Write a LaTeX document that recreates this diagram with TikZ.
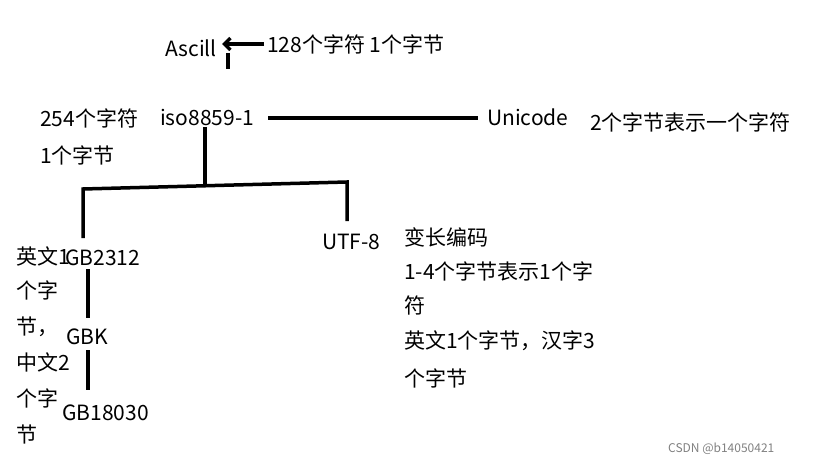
\documentclass[tikz,border=0pt]{standalone}
\usepackage{fontspec}
\usetikzlibrary{arrows.meta}
\setmainfont{Noto Sans CJK SC}
\begin{document}
\begin{tikzpicture}[x=1pt,y=-1pt,
  t/.style={anchor=west,inner sep=0pt,font=\fontsize{21}{24}\selectfont},
  ln/.style={line width=3.5pt}]
\useasboundingbox (0,0) rectangle (816,465);
\node[t] (ascill) at (165,48) {Ascill};
\node[t] (a128) at (267,44) {128个字符 1个字节};
\node[t] (c254) at (40,118) {254个字符};
\node[t] (iso) at (160,117) {iso8859-1};
\node[t] (b1) at (40,155) {1个字节};
\node[t] (uni) at (487,117) {Unicode};
\node[t] (u2) at (590,122) {2个字节表示一个字符};
\node[t] (utf) at (322,242) {UTF-8};
\node[t] (gb2312) at (65,258) {GB2312};
\node[t] (gbk) at (66,337) {GBK};
\node[t] (gb18030) at (62,413) {GB18030};
\node[t] (l1) at (16,256) {英文1};
\node[t] (l2) at (16,290) {个字};
\node[t] (l3) at (16,327) {节，};
\node[t] (l4) at (16,362) {中文2};
\node[t] (l5) at (16,398) {个字};
\node[t] (l6) at (16,434) {节};
\node[t] (r1) at (404,237) {变长编码};
\node[t] (r2) at (404,271) {1-4个字节表示1个字};
\node[t] (r3) at (404,305) {符};
\node[t] (r4) at (404,341) {英文1个字节，汉字3};
\node[t] (r5) at (404,378) {个字节};
\node[anchor=west,inner sep=0pt,text=gray,font=\fontsize{12}{14}\selectfont] (wm) at (668,449) {CSDN @b14050421};
\coordinate (arS) at (264,44);
\coordinate (arE) at (222,44);
\draw[ln,-{Straight Barb[length=6pt,width=12pt]}] (arS) -- (arE);
\draw[ln] (228,53) -- (228,69);
\draw[ln] (268,118) -- (478,118);
\draw[ln] (205,127) -- (205,184);
\draw[ln] (83,238) -- (83,189) -- (347,182) -- (347,221);
\draw[ln] (88,269) -- (88,318);
\draw[ln] (88,350) -- (88,390);
\end{tikzpicture}
\end{document}
